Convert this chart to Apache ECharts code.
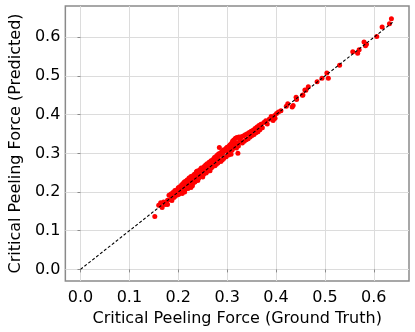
<!DOCTYPE html>
<html>
<head>
<meta charset="utf-8">
<script src="https://cdn.jsdelivr.net/npm/echarts@6/dist/echarts.min.js"></script>
<style>
html,body{margin:0;padding:0;background:#fff;}
#chart{width:415px;height:332px;}
</style>
</head>
<body>
<div id="chart"></div>
<script>
var groundTruth = [
0.152,0.160,0.164,0.167,0.170,0.173,0.176,0.178,0.181,0.183,0.185,0.187,0.189,0.191,0.193,0.194,0.196,0.197,0.199,0.200,0.178,0.186,
0.201,0.203,0.204,0.206,0.207,0.208,0.210,0.211,0.212,0.213,0.214,0.215,0.216,0.217,0.218,0.219,0.220,0.221,0.222,0.223,0.224,0.225,0.226,0.227,0.228,0.229,0.230,0.231,0.232,0.233,0.234,0.235,0.236,0.237,0.238,0.239,0.240,0.241,0.242,0.243,0.244,0.245,0.246,0.247,0.248,0.249,0.250,0.212,0.226,0.238,
0.251,0.252,0.253,0.254,0.255,0.256,0.257,0.258,0.259,0.260,0.261,0.262,0.263,0.264,0.265,0.266,0.267,0.268,0.269,0.270,0.271,0.272,0.273,0.274,0.275,0.276,0.277,0.278,0.279,0.280,0.281,0.282,0.283,0.284,0.285,0.286,0.287,0.288,0.289,0.290,0.291,0.292,0.293,0.295,0.297,0.298,0.300,0.299,
0.301,0.302,0.303,0.304,0.305,0.306,0.307,0.308,0.309,0.310,0.311,0.312,0.313,0.314,0.315,0.316,0.317,0.318,0.319,0.320,0.321,0.322,0.323,0.324,0.325,0.327,0.329,0.331,0.333,0.335,0.337,0.339,0.341,0.343,0.345,0.347,0.349,
0.351,0.353,0.355,0.357,0.359,0.361,0.363,0.365,0.367,0.369,0.372,0.375,0.379,0.382,0.386,0.390,0.394,0.395,0.397,0.398,
0.401,0.405,0.410,0.421,0.424,0.433,0.435,0.441,0.442,0.455,0.454,0.459,0.466,0.461,0.484,0.494,0.504,0.507,0.530,0.557,0.567,0.570,0.580,0.583,0.585,0.606,0.617,0.632,0.636
];
var predicted = [
0.137,0.166,0.172,0.160,0.174,0.168,0.171,0.179,0.192,0.180,0.195,0.178,0.199,0.186,0.204,0.189,0.195,0.205,0.193,0.211,0.168,0.190,
0.194,0.214,0.199,0.210,0.219,0.196,0.222,0.205,0.215,0.200,0.227,0.208,0.220,0.214,0.231,0.212,0.209,0.228,0.236,0.214,0.222,0.230,0.240,0.219,0.233,0.216,0.242,0.224,0.238,0.246,0.226,0.241,0.230,0.252,0.232,0.247,0.230,0.255,0.236,0.251,0.241,0.258,0.240,0.262,0.243,0.256,0.239,0.225,0.212,0.254,
0.262,0.246,0.266,0.250,0.261,0.270,0.249,0.265,0.273,0.254,0.271,0.259,0.277,0.262,0.255,0.275,0.281,0.263,0.278,0.266,0.284,0.268,0.282,0.289,0.268,0.285,0.292,0.272,0.288,0.296,0.275,0.291,0.299,0.315,0.282,0.300,0.279,0.297,0.305,0.283,0.301,0.309,0.287,0.306,0.312,0.291,0.316,0.314,
0.306,0.316,0.296,0.319,0.303,0.322,0.310,0.298,0.326,0.308,0.331,0.313,0.334,0.317,0.336,0.320,0.339,0.326,0.314,0.341,0.324,0.300,0.319,0.342,0.330,0.338,0.343,0.327,0.345,0.331,0.348,0.335,0.351,0.338,0.354,0.342,0.357,
0.346,0.360,0.349,0.364,0.353,0.368,0.356,0.372,0.361,0.375,0.366,0.380,0.384,0.376,0.388,0.395,0.385,0.389,0.398,0.391,
0.403,0.407,0.410,0.422,0.428,0.420,0.424,0.445,0.439,0.451,0.450,0.464,0.472,0.463,0.485,0.494,0.508,0.494,0.528,0.563,0.559,0.568,0.588,0.578,0.582,0.602,0.627,0.635,0.648
];
var identityLine = [0, 0.64];
var xTickValues = [0, 0.1, 0.2, 0.3, 0.4, 0.5, 0.6];
var yTickValues = [0, 0.1, 0.2, 0.3, 0.4, 0.5, 0.6];
var xAxisTitle = 'Critical Peeling Force (Ground Truth)';
var yAxisTitle = 'Critical Peeling Force (Predicted)';

var points = groundTruth.map(function (g, i) { return [g, predicted[i]]; });
var lineData = identityLine.map(function (v) { return [v, v]; });

var font = 'DejaVu Sans';
function fmt(v) {
  return Math.abs(v * 10 - Math.round(v * 10)) < 1e-6 ? v.toFixed(1) : '';
}

var chart = echarts.init(document.getElementById('chart'), null, {renderer: 'canvas'});
chart.setOption({
  animation: false,
  backgroundColor: '#fff',
  grid: {
    left: 54, top: 6, right: 6, bottom: 45,
    show: true, borderColor: '#8a8a8a', borderWidth: 1.5, backgroundColor: 'transparent'
  },
  xAxis: {
    type: 'value',
    min: -0.031, max: 0.672,
    splitNumber: 7,
    name: xAxisTitle,
    nameLocation: 'middle',
    nameGap: 30,
    nameTextStyle: {fontFamily: font, fontSize: 16, color: '#000'},
    axisLine: {show: false},
    axisTick: {show: true, length: 3, customValues: xTickValues, lineStyle: {color: '#8a8a8a'}},
    axisLabel: {customValues: xTickValues, formatter: fmt, fontFamily: font, fontSize: 16, color: '#000', margin: 9},
    splitLine: {show: true, lineStyle: {color: '#dcdcdc', width: 1}}
  },
  yAxis: {
    type: 'value',
    min: -0.030, max: 0.681,
    splitNumber: 7,
    name: yAxisTitle,
    nameLocation: 'middle',
    nameGap: 32,
    nameTextStyle: {fontFamily: font, fontSize: 16, color: '#000'},
    axisLine: {show: false},
    axisTick: {show: true, length: 3, customValues: yTickValues, lineStyle: {color: '#8a8a8a'}},
    axisLabel: {customValues: yTickValues, formatter: fmt, fontFamily: font, fontSize: 16, color: '#000', margin: 5},
    splitLine: {show: true, lineStyle: {color: '#dcdcdc', width: 1}}
  },
  series: [
    {
      type: 'scatter',
      data: points,
      symbol: 'circle',
      symbolSize: 5,
      itemStyle: {color: '#ff0000', opacity: 1}
    },
    {
      type: 'line',
      data: lineData,
      showSymbol: false,
      symbol: 'none',
      lineStyle: {color: '#000', width: 1.1, type: [3, 2]},
      z: 5
    }
  ]
});
</script>
</body>
</html>
